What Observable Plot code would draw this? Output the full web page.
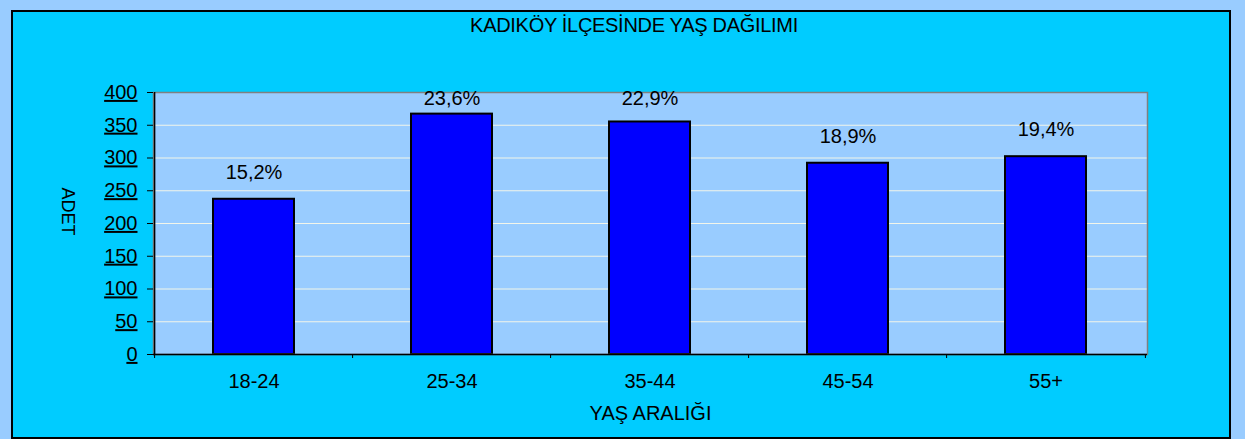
<!DOCTYPE html>
<html>
<head>
<meta charset="utf-8">
<script src="https://cdn.jsdelivr.net/npm/d3@7"></script>
<script src="https://cdn.jsdelivr.net/npm/@observablehq/plot@0.6"></script>
<style>
  html, body { margin: 0; padding: 0; background: #99ccff; width: 1245px; height: 439px; overflow: hidden; }
  #panel { position: absolute; left: 11px; top: 10px; width: 1216px; height: 425px; background: #00ccff; border: 2px solid #000; }
  #title { position: absolute; left: 0; top: 14px; width: 1268px; text-align: center; font-family: "Liberation Sans", Arial, sans-serif; font-size: 20px; letter-spacing: -0.3px; color: #000; }
  #chart { position: absolute; left: 0; top: 0; }
  #chart svg { background: transparent !important; }
  g[aria-label="y-axis tick label"] text { text-decoration: underline; }
</style>
</head>
<body>
<div id="panel"></div>
<div id="title">KADIKÖY İLÇESİNDE YAŞ DAĞILIMI</div>
<div id="chart"></div>
<script>
const categories = ["18-24", "25-34", "35-44", "45-54", "55+"];
const counts = [237, 367, 355, 292, 302];
const percentLabels = ["15,2%", "23,6%", "22,9%", "18,9%", "19,4%"];
const yTicks = [0, 50, 100, 150, 200, 250, 300, 350, 400];
const xTitle = "YAŞ ARALIĞI";
const yTitle = "ADET";

const data = categories.map((c, i) => ({cat: c, value: counts[i], label: percentLabels[i]}));

const W = 1245, H = 439, mL = 153, mR = 98, mT = 92, mB = 85;
const step = (W - mL - mR) / categories.length;

const chart = Plot.plot({
  width: W,
  height: H,
  marginLeft: mL,
  marginRight: mR,
  marginTop: mT,
  marginBottom: mB,
  style: {background: "transparent", fontFamily: "Liberation Sans, Arial, sans-serif", color: "#000"},
  x: {domain: categories, paddingInner: 0.59, paddingOuter: 0.295, label: null},
  y: {domain: [0, 400], label: null},
  marks: [
    Plot.frame({fill: "#99ccff", stroke: "none"}),
    Plot.ruleY(yTicks.filter(t => t > 0 && t < 400), {stroke: "#f2f5ea", strokeWidth: 1.2}),
    Plot.barY(data, {x: "cat", y: "value", fill: "#0000ff", stroke: "#000", strokeWidth: 2}),
    Plot.frame({stroke: "#808080", strokeWidth: 1.5}),
    Plot.ruleX([categories[0]], {dx: -step / 2, stroke: "#000", strokeWidth: 1.5}),
    Plot.ruleY([0], {stroke: "#000", strokeWidth: 1.5}),
    Plot.axisY({ticks: yTicks, tickSize: 6, tickPadding: 10, fontSize: 20, stroke: "#000", tickFormat: d => String(d)}),
    Plot.axisX({tickSize: 4, tickFormat: () => "", dx: -step / 2, stroke: "#000"}),
    Plot.axisX([categories[categories.length - 1]], {tickSize: 4, tickFormat: () => "", dx: step / 2, stroke: "#000"}),
    Plot.axisX({tickSize: 0, tickPadding: 19, fontSize: 20}),
    Plot.text(data, {x: "cat", y: d => Math.min(d.value, 350), text: "label", dy: -27, fontSize: 20, fill: "#000"}),
    Plot.text([xTitle], {frameAnchor: "bottom", dy: 65, fontSize: 20, fill: "#000"}),
    Plot.text([yTitle], {frameAnchor: "left", textAnchor: "middle", dx: -86, dy: -12, rotate: 90, fontSize: 18, fill: "#000"})
  ]
});
document.getElementById("chart").appendChild(chart);
</script>
</body>
</html>
